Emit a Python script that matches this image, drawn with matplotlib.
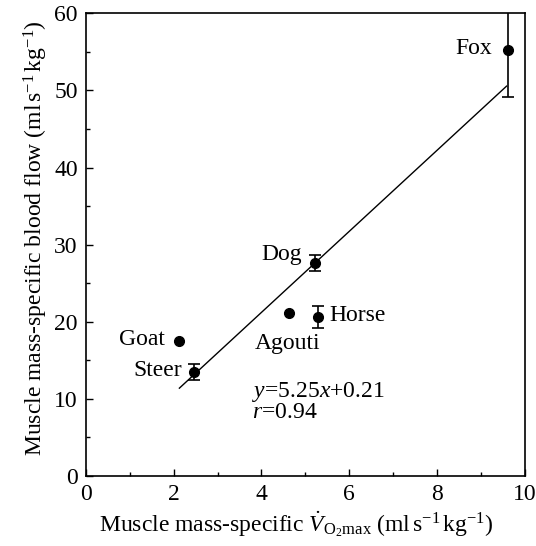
import matplotlib
matplotlib.use("Agg")
import matplotlib.pyplot as plt
from matplotlib.ticker import MultipleLocator
import numpy as np

plt.rcParams['font.family'] = ['Liberation Serif', 'DejaVu Serif']
plt.rcParams['mathtext.fontset'] = 'custom'
plt.rcParams['mathtext.rm'] = 'Liberation Serif'
plt.rcParams['mathtext.it'] = 'Liberation Serif:italic'
plt.rcParams['mathtext.bf'] = 'Liberation Serif:bold'

animals = ["Fox", "Dog", "Agouti", "Horse", "Goat", "Steer"]
vo2 = [9.63, 5.22, 4.62, 5.28, 2.11, 2.46]
flow = [55.2, 27.6, 21.1, 20.6, 17.5, 13.5]
flow_err = [6.1, 1.0, 0.0, 1.4, 0.0, 1.0]

slope, intercept = 5.25, 0.21
fit_x = [2.13, 9.59]

FS = 17

fig = plt.figure(figsize=(5.36, 5.46), dpi=100)
ax = fig.add_axes([0.1604, 0.1282, 0.8182, 0.8474])

fx = np.array(fit_x)
ax.plot(fx, slope * fx + intercept, color='black', lw=1.0, zorder=2)

for name, x, y, e in zip(animals, vo2, flow, flow_err):
    if e > 0:
        ax.errorbar(x, y, yerr=e, fmt='none', ecolor='black', elinewidth=1.2,
                    capsize=4.3, capthick=1.2, zorder=3, clip_on=True)
ax.plot(vo2, flow, 'o', color='black', ms=7, zorder=4, clip_on=False)

label_cfg = {
    "Fox": (-0.38, 0.3, 'right', 'center'),
    "Dog": (-0.3, 1.1, 'right', 'center'),
    "Agouti": (-0.03, -3.9, 'center', 'center'),
    "Horse": (0.27, 0.2, 'left', 'center'),
    "Goat": (-0.3, 0.2, 'right', 'center'),
    "Steer": (-0.27, 0.2, 'right', 'center'),
}
for name, x, y in zip(animals, vo2, flow):
    dx, dy, ha, va = label_cfg[name]
    ax.text(x + dx, y + dy, name, ha=ha, va=va, fontsize=FS)

ax.text(3.78, 10.9, r"$y$=5.25$x$+0.21", fontsize=FS, ha='left', va='center')
ax.text(3.78, 8.2, r"$r$=0.94", fontsize=FS, ha='left', va='center')

ax.set_xlim(0, 10)
ax.set_ylim(0, 60)
ax.xaxis.set_major_locator(MultipleLocator(2))
ax.xaxis.set_minor_locator(MultipleLocator(1))
ax.yaxis.set_major_locator(MultipleLocator(10))
ax.yaxis.set_minor_locator(MultipleLocator(5))
ax.tick_params(which='both', direction='in', labelsize=FS, width=1.0)
ax.tick_params(which='major', length=5, pad=6)
ax.tick_params(which='minor', length=3)
ax.tick_params(top=False, right=False, which='both')
for s in ax.spines.values():
    s.set_linewidth(1.2)

ax.set_xlabel(r"Muscle mass-specific $\dot{V}_{\mathrm{O_2max}}$ (ml$\,$s$^{-1}\,$kg$^{-1}$)",
              fontsize=FS, labelpad=3)
ax.set_ylabel(r"Muscle mass-specific blood flow (ml$\,$s$^{-1}\,$kg$^{-1}$)",
              fontsize=FS, labelpad=3)
ax.xaxis.label.set_x(0.48)
ax.yaxis.label.set_y(0.514)

fig.savefig("out.png", dpi=100)
